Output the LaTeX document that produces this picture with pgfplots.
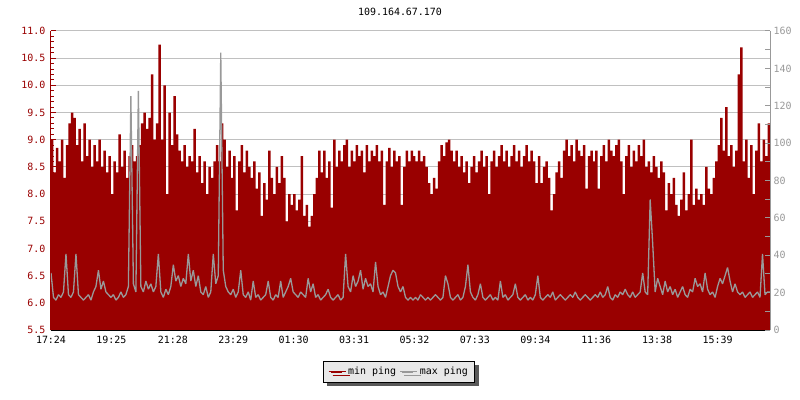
\documentclass[border=0pt]{standalone}
\usepackage{pgfplots}
\pgfplotsset{compat=1.18}
\usepackage{pgfplotstable}
\usepackage{fontspec}
\setmainfont{DejaVu Sans Mono}
\usetikzlibrary{shadows}
\definecolor{minred}{RGB}{153,0,0}
\definecolor{maxgray}{RGB}{153,153,153}
\definecolor{gridgray}{RGB}{192,192,192}
\definecolor{leggray}{RGB}{232,232,232}

% min ping, one value every 5 minutes (12 per line = 1 hour)
\pgfplotstableread[row sep=\\]{v\\
9.0\\8.4\\8.85\\8.6\\9.0\\8.3\\8.9\\9.3\\9.5\\9.4\\8.9\\9.2\\
8.6\\9.3\\8.7\\9.0\\8.5\\8.9\\8.6\\9.0\\8.5\\8.8\\8.4\\8.7\\
8.0\\8.6\\8.4\\9.1\\8.5\\8.8\\8.3\\8.7\\8.9\\8.6\\8.7\\8.9\\
9.3\\9.5\\9.2\\9.4\\10.2\\9.0\\9.3\\10.75\\9.0\\10.0\\8.0\\9.5\\
8.9\\9.8\\9.1\\8.8\\8.6\\8.9\\8.5\\8.7\\8.6\\9.2\\8.4\\8.7\\
8.2\\8.6\\8.0\\8.5\\8.3\\8.6\\8.9\\8.6\\9.3\\9.0\\8.5\\8.8\\
8.3\\8.7\\7.7\\8.6\\8.9\\8.4\\8.8\\8.5\\8.3\\8.6\\8.1\\8.4\\
7.6\\8.2\\7.9\\8.8\\8.3\\8.0\\8.5\\8.2\\8.7\\8.3\\7.5\\8.0\\
7.8\\8.0\\7.7\\7.9\\8.7\\7.6\\7.8\\7.4\\7.6\\8.0\\8.3\\8.8\\
8.4\\8.8\\8.3\\8.6\\7.75\\9.0\\8.5\\8.8\\8.6\\8.9\\9.0\\8.5\\
8.8\\8.6\\8.9\\8.7\\8.8\\8.4\\8.9\\8.6\\8.8\\8.7\\8.9\\8.6\\
8.8\\7.8\\8.6\\8.85\\8.5\\8.8\\8.6\\8.7\\7.8\\8.5\\8.8\\8.6\\
8.8\\8.7\\8.6\\8.8\\8.6\\8.7\\8.5\\8.2\\8.0\\8.3\\8.1\\8.6\\
8.9\\8.7\\8.95\\9.0\\8.8\\8.6\\8.8\\8.5\\8.7\\8.4\\8.6\\8.2\\
8.5\\8.7\\8.4\\8.6\\8.8\\8.5\\8.7\\8.0\\8.6\\8.8\\8.5\\8.7\\
8.9\\8.6\\8.8\\8.5\\8.7\\8.9\\8.6\\8.8\\8.5\\8.7\\8.9\\8.6\\
8.8\\8.6\\8.2\\8.7\\8.2\\8.5\\8.6\\8.3\\7.7\\8.0\\8.4\\8.6\\
8.3\\8.8\\9.0\\8.7\\8.9\\8.6\\9.0\\8.8\\8.7\\8.9\\8.1\\8.7\\
8.8\\8.6\\8.8\\8.1\\8.7\\8.9\\8.6\\9.0\\8.8\\8.7\\8.9\\9.0\\
8.6\\8.0\\8.7\\8.9\\8.5\\8.8\\8.6\\8.9\\8.7\\9.0\\8.5\\8.6\\
8.4\\8.7\\8.5\\8.3\\8.6\\8.4\\7.7\\8.2\\8.0\\8.3\\7.8\\7.6\\
7.9\\8.4\\7.7\\8.0\\9.0\\7.8\\8.1\\7.9\\8.0\\7.8\\8.5\\8.1\\
8.0\\8.3\\8.6\\8.9\\9.4\\8.8\\9.6\\8.7\\8.9\\8.5\\8.8\\10.2\\
10.7\\8.6\\9.0\\8.3\\8.9\\8.0\\8.8\\9.3\\8.6\\9.0\\8.7\\9.3\\
9.3\\
}\minping

% max ping (drawn on the left scale)
\pgfplotstableread[row sep=\\]{v\\
6.55\\6.1\\6.05\\6.15\\6.1\\6.2\\6.9\\6.15\\6.1\\6.2\\6.9\\6.15\\
6.1\\6.05\\6.1\\6.15\\6.05\\6.2\\6.3\\6.6\\6.25\\6.4\\6.2\\6.15\\
6.1\\6.15\\6.05\\6.1\\6.2\\6.1\\6.15\\6.3\\9.8\\6.35\\6.2\\9.9\\
6.3\\6.2\\6.4\\6.25\\6.35\\6.2\\6.3\\6.9\\6.2\\6.1\\6.25\\6.15\\
6.3\\6.7\\6.4\\6.5\\6.3\\6.45\\6.35\\6.9\\6.4\\6.6\\6.3\\6.5\\
6.2\\6.15\\6.3\\6.1\\6.2\\6.9\\6.35\\6.5\\10.6\\6.6\\6.3\\6.2\\
6.15\\6.25\\6.1\\6.2\\6.6\\6.15\\6.1\\6.2\\6.05\\6.4\\6.1\\6.15\\
6.05\\6.1\\6.15\\6.4\\6.1\\6.05\\6.15\\6.1\\6.4\\6.1\\6.2\\6.3\\
6.45\\6.2\\6.15\\6.1\\6.2\\6.15\\6.1\\6.45\\6.2\\6.35\\6.1\\6.15\\
6.05\\6.1\\6.15\\6.25\\6.1\\6.05\\6.1\\6.15\\6.05\\6.1\\6.9\\6.3\\
6.2\\6.5\\6.3\\6.4\\6.6\\6.25\\6.45\\6.3\\6.35\\6.2\\6.75\\6.3\\
6.15\\6.2\\6.1\\6.3\\6.5\\6.6\\6.55\\6.3\\6.2\\6.3\\6.1\\6.05\\
6.1\\6.05\\6.1\\6.05\\6.15\\6.1\\6.05\\6.1\\6.05\\6.1\\6.15\\6.1\\
6.05\\6.1\\6.5\\6.35\\6.1\\6.05\\6.1\\6.15\\6.05\\6.1\\6.3\\6.7\\
6.2\\6.1\\6.05\\6.15\\6.35\\6.1\\6.05\\6.1\\6.15\\6.05\\6.1\\6.05\\
6.4\\6.1\\6.15\\6.05\\6.1\\6.15\\6.35\\6.1\\6.05\\6.1\\6.15\\6.05\\
6.1\\6.05\\6.15\\6.5\\6.1\\6.05\\6.1\\6.15\\6.1\\6.2\\6.05\\6.1\\
6.15\\6.1\\6.05\\6.1\\6.15\\6.1\\6.2\\6.1\\6.05\\6.1\\6.15\\6.1\\
6.05\\6.1\\6.15\\6.1\\6.2\\6.1\\6.15\\6.3\\6.1\\6.05\\6.15\\6.1\\
6.2\\6.15\\6.25\\6.15\\6.1\\6.2\\6.1\\6.15\\6.2\\6.55\\6.2\\6.15\\
7.9\\7.1\\6.2\\6.45\\6.3\\6.15\\6.4\\6.2\\6.3\\6.15\\6.25\\6.1\\
6.2\\6.3\\6.15\\6.1\\6.25\\6.2\\6.45\\6.3\\6.35\\6.2\\6.55\\6.25\\
6.15\\6.2\\6.1\\6.3\\6.45\\6.35\\6.5\\6.65\\6.4\\6.2\\6.35\\6.2\\
6.15\\6.2\\6.1\\6.15\\6.2\\6.1\\6.15\\6.2\\6.1\\6.9\\6.15\\6.2\\
6.2\\
}\maxping

\begin{document}
\begin{tikzpicture}[font=\fontsize{10}{12}\selectfont]
\begin{axis}[
  name=ax, at={(0,0)}, anchor=south west,
  scale only axis, width=719bp, height=299bp,
  xmin=0, xmax=1440, ymin=5.5, ymax=11,
  axis x line*=bottom, axis y line*=left,
  x axis line style={black,-, line width=1bp},
  y axis line style={minred,-, line width=1bp},
  xtick={0,121,244,365,486,607,728,849,970,1092,1214,1335},
  xticklabels={17:24,19:25,21:28,23:29,01:30,03:31,05:32,07:33,09:34,11:36,13:38,15:39},
  xticklabel style={yshift=-3bp},
  ytick={5.5,6,6.5,7,7.5,8,8.5,9,9.5,10,10.5,11},
  minor y tick num=4,
  /pgf/number format/assume math mode=true,
  yticklabel style={color=minred, xshift=-2bp, /pgf/number format/fixed, /pgf/number format/fixed zerofill, /pgf/number format/precision=1},
  x tick style={black, line width=1bp}, y tick style={minred, line width=1bp},
  tick align=inside,
  major tick length=5bp, minor tick length=3bp,
  ymajorgrids, grid style={gridgray, line width=1bp},
  legend columns=2,
  legend style={at={(0.484,-0.14)}, anchor=center, draw=black, fill=leggray, line width=1bp,
    font=\fontsize{10}{12}\selectfont, inner xsep=5bp, inner ysep=4bp,
    drop shadow={shadow xshift=4bp, shadow yshift=-4bp, fill=black!65, opacity=1},
    /tikz/every even column/.append style={column sep=2bp}},
  legend image code/.code={\draw[#1, line width=2.5bp] (0bp,0bp) -- (11bp,0bp); \path (-2bp,0bp) -- (15bp,0bp);},
]
\addplot[const plot, fill=minred, draw=none, forget plot] table[x expr=\coordindex*5, y=v]{\minping} \closedcycle;
\addplot[sharp plot, color=maxgray, line width=1.3bp, line join=bevel, forget plot] table[x expr=\coordindex*5, y=v]{\maxping};
\addlegendimage{minred}
\addlegendentry{min ping}
\addlegendimage{maxgray}
\addlegendentry{max ping}
\end{axis}
\begin{axis}[
  at={(0,0)}, anchor=south west,
  scale only axis, width=719bp, height=299bp,
  xmin=0, xmax=1440, ymin=0, ymax=160,
  axis x line=none, axis y line*=right,
  y axis line style={maxgray,-, line width=1bp},
  ytick={0,20,...,160}, minor y tick num=1,
  /pgf/number format/assume math mode=true,
  yticklabel style={color=maxgray},
  y tick style={maxgray, line width=1bp},
  tick align=inside, major tick length=5bp, minor tick length=5bp,
]
\end{axis}
\node at (349bp,318bp) {109.164.67.170};
\pgfresetboundingbox
\path (-51bp,-70bp) rectangle (749bp,330bp);
\end{tikzpicture}
\end{document}
